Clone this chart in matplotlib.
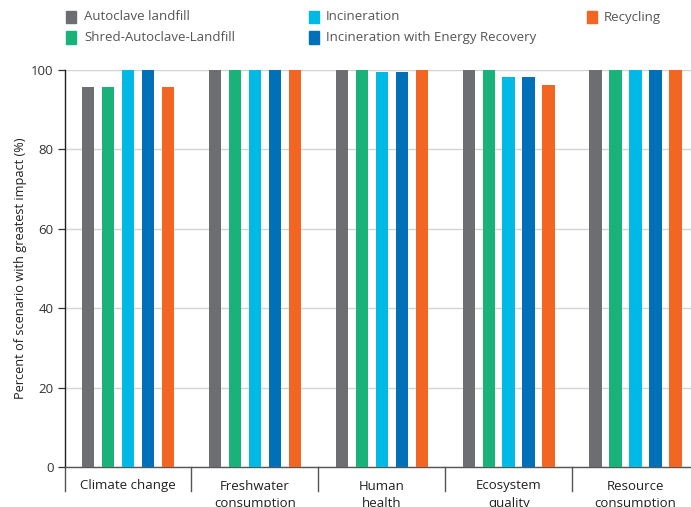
import matplotlib
matplotlib.use('Agg')
import matplotlib.pyplot as plt
from matplotlib.patches import Rectangle
import matplotlib.transforms as mtransforms
import numpy as np

plt.rcParams['font.family'] = ['Open Sans', 'DejaVu Sans']

# data
categories = ['Climate change', 'Freshwater\nconsumption', 'Human\nhealth',
              'Ecosystem\nquality', 'Resource\nconsumption']
scenarios = ['Autoclave landfill', 'Shred-Autoclave-Landfill', 'Incineration',
             'Incineration with Energy Recovery', 'Recycling']
autoclave = [95.6, 100, 100, 100, 100]
shred = [95.6, 100, 100, 100, 100]
incineration = [100, 100, 99.6, 98.3, 100]
incin_energy = [100, 100, 99.6, 98.3, 100]
recycling = [95.6, 100, 100, 96.1, 100]
yticks = [0, 20, 40, 60, 80, 100]

colors = ['#6d6e71', '#19b27b', '#00b9e4', '#0070b8', '#f26522']
series = [autoclave, shred, incineration, incin_energy, recycling]

W, H = 691, 507
fig = plt.figure(figsize=(W / 100, H / 100), dpi=100)
ax = fig.add_axes([64.5 / W, (H - 467) / H, (699 - 64.5) / W, (467 - 70) / H])

x = np.arange(len(categories))
step = 0.1575
for i, (vals, c) in enumerate(zip(series, colors)):
    ax.bar(x + (i - 2) * step, vals, width=0.097, color=c, zorder=3, label=scenarios[i])

ax.set_xlim(-0.5, len(categories) - 0.5)
ax.set_ylim(0, 100)
ax.set_yticks(yticks)
ax.yaxis.grid(True, color='#d4d4d4', linewidth=1.0, zorder=0)
ax.tick_params(axis='y', length=5, width=0.9, color='#333333', labelsize=9.5,
               labelcolor='#333333', pad=3)
ax.set_xticks(x)
ax.set_xticklabels(categories, fontsize=9.5, color='#231f20', linespacing=1.45, va='top')
ax.tick_params(axis='x', length=0, pad=9)
for s in ['top', 'right']:
    ax.spines[s].set_visible(False)
ax.spines['left'].set_color('#231f20')
ax.spines['left'].set_linewidth(1.0)
ax.spines['bottom'].set_color('#555555')
ax.spines['bottom'].set_linewidth(1.0)
ax.set_ylabel('Percent of scenario with greatest impact (%)', fontsize=9.2,
              color='#231f20', labelpad=3)

# group separators below the axis
trans = mtransforms.blended_transform_factory(ax.transData, ax.transAxes)
for b in np.arange(len(categories) + 1) - 0.5:
    ax.plot([b, b], [0, -0.06], transform=trans, color='#555555', lw=1.0, clip_on=False)

# legend placed like the reference
leg_rows = [17, 37.5]
leg_cols = [(66, 84), (308.5, 326), (587, 604)]
slots = [(0, 0), (0, 1), (1, 0), (1, 1), (2, 0)]
for (ci, ri), name, c in zip(slots, scenarios, colors):
    sx, tx = leg_cols[ci]
    yc = leg_rows[ri]
    fig.patches.append(Rectangle((sx / W, 1 - (yc + 6) / H), 10 / W, 12 / H,
                                 transform=fig.transFigure, color=c))
    fig.text(tx / W, 1 - yc / H, name, fontsize=9.5, color='#555555', va='center')

fig.savefig('out.png', dpi=100)
